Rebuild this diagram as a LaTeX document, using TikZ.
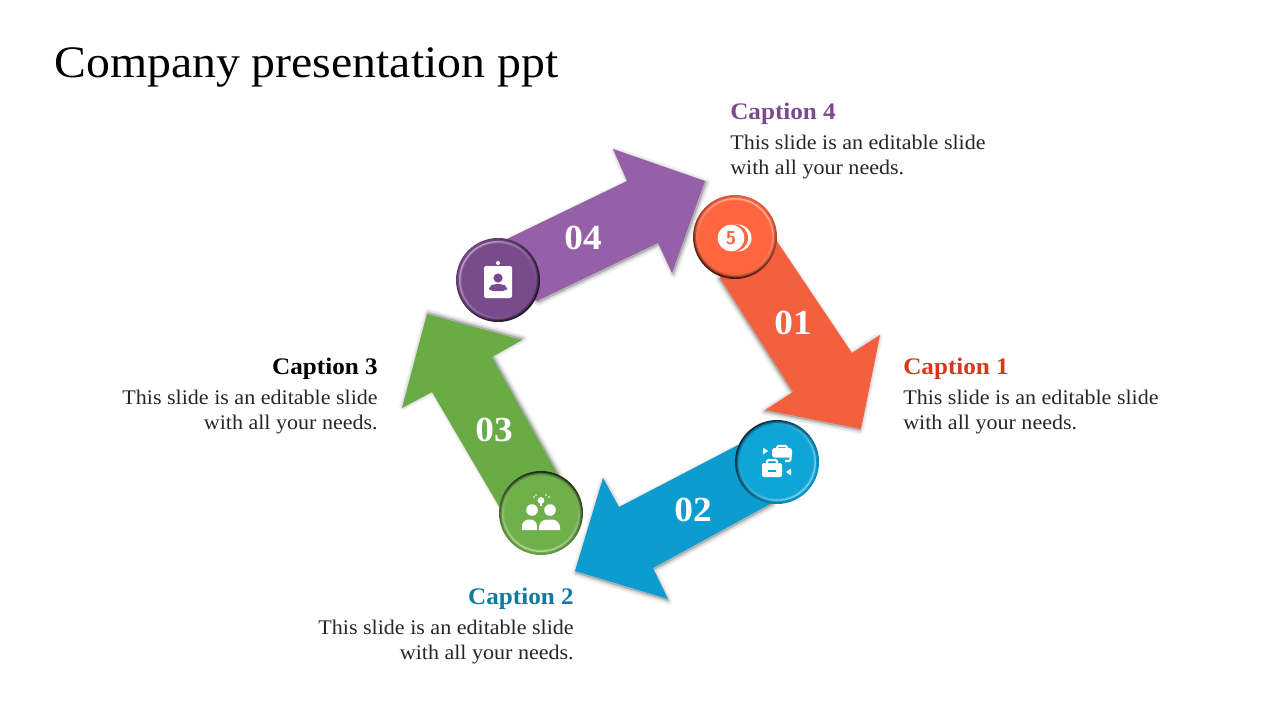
\documentclass[tikz,border=0pt]{standalone}
\usepackage{fontspec}
\usepackage{tikz}
\usetikzlibrary{calc}
\setmainfont{Liberation Serif}[FakeStretch=1.06]
\definecolor{orangeArrow}{HTML}{F45F3E}
\definecolor{blueArrow}{HTML}{0C9CCF}
\definecolor{greenArrow}{HTML}{69AB45}
\definecolor{purpleArrow}{HTML}{9660A8}
\definecolor{orangeDisc}{HTML}{FF6640}
\definecolor{blueDisc}{HTML}{0FA5D8}
\definecolor{greenDisc}{HTML}{70B04B}
\definecolor{purpleDisc}{HTML}{7A4B8C}
\definecolor{orangeCap}{HTML}{D8381A}
\definecolor{blueCap}{HTML}{0F7A9F}
\definecolor{purpleCap}{HTML}{7A4A8C}

% soft shadow copies (offset in #2), then the arrow itself
\newcommand{\softarrow}[3]{%
  \foreach \w/\op in {6/.03,4.5/.04,3/.05,1.5/.07}
    \fill[black,opacity=\op,draw=black,line width=\w pt,line join=round,shift={(#2)}] #3 -- cycle;
  \fill[#1] #3 -- cycle;
}
% bevelled disc: name, centre, colour, direction of the light
\newcommand{\bevel}[4]{%
  \node[disc, minimum size=63pt, top color=#3!90!black, middle color=#3!80!black, bottom color=#3!25!black, shading angle=#4-90] (#1) at (#2) {};
  \node[disc, minimum size=60.5pt, top color=#3, middle color=#3, bottom color=#3!60!black, shading angle=#4-90] at (#2) {};
  \node[disc, minimum size=58.5pt, top color=#3!50!white, middle color=#3, bottom color=#3!85!black, shading angle=#4-90] at (#2) {};
  \node[disc, minimum size=56.5pt, top color=#3!80!white, middle color=#3, bottom color=#3, shading angle=#4-90] at (#2) {};
  \node[disc, minimum size=55pt, fill=#3] at (#2) {};
}

\begin{document}
\begin{tikzpicture}[x=.75pt,y=-.75pt,
    disc/.style={circle, inner sep=0pt, draw=none},
    number/.style={text=white, font=\fontsize{26.4}{26.4}\selectfont\bfseries},
    captext/.style={font=\fontsize{17.8}{21}\selectfont\bfseries, inner sep=0pt},
    body/.style={font=\fontsize{15.6}{19.1}\selectfont, inner sep=0pt, text=black!85},
    icon/.style={fill=white, draw=none}
  ]
  \useasboundingbox (0,0) rectangle (1280,720);

  % title
  \node[anchor=base west, inner sep=0pt, font=\fontsize{33.8}{36}\selectfont] (title) at (54,78) {Company presentation ppt};

  % arrows
  \softarrow{purpleArrow}{1.5,1.5}{(507,239) -- (627,181) -- (613,149) -- (705,181) -- (672,273) -- (658,243) -- (537,301) -- (498,280)}
  \softarrow{orangeArrow}{-1,1.5}{(776,240) -- (852,353) -- (880,335) -- (861,429) -- (765,410) -- (793,392) -- (720,278) -- (735,237)}
  \softarrow{blueArrow}{.5,2}{(738,445) -- (619,507) -- (603,478) -- (575,571) -- (668,599) -- (653,568) -- (772,503) -- (777,462)}
  \softarrow{greenArrow}{1,-1.5}{(500,508) -- (432,392) -- (402,408) -- (427,314) -- (522,340) -- (492,357) -- (558,475) -- (541,513)}

  % numbers
  \node[number] (n1) at (793,323) {01};
  \node[number] (n2) at (693,510) {02};
  \node[number] (n3) at (494,430) {03};
  \node[number] (n4) at (583,238) {04};

  % discs
  \bevel{d1}{735,237}{orangeDisc}{70}
  \bevel{d2}{777,462}{blueDisc}{-40}
  \bevel{d3}{541,513}{greenDisc}{-100}
  \bevel{d4}{498,280}{purpleDisc}{140}

  % ball icon
  \fill[icon] (738,238) circle (13.5);
  \fill[orangeDisc] (734.5,238) circle (13.5);
  \fill[icon] (731,238) circle (13.3);
  \node[text=orangeDisc, inner sep=0pt, font=\fontsize{14}{14}\selectfont\bfseries\sffamily] (five) at (731,238) {5};

  % briefcases icon
  \fill[icon, rounded corners=1.5] (762,463) rectangle (782,477);
  \draw[white, line width=1.6pt, rounded corners=1] (767,463) -- (767,460) -- (777,460) -- (777,463);
  \fill[blueDisc] (768,469.5) rectangle (776,472);
  \fill[icon, rounded corners=2] (772,448) rectangle (792,457.5);
  \draw[white, line width=1.6pt, rounded corners=1] (777,448) -- (777,446) -- (787,446) -- (787,448);
  \draw[white, line width=1.8pt, rounded corners=1.5] (790.5,456) -- (790.5,461) -- (785,461);
  \fill[icon] (763,447.5) -- (768,451) -- (763,454.5) -- cycle;
  \fill[icon] (791,468.5) -- (786,472) -- (791,475.5) -- cycle;

  % two people icon
  \fill[icon] (532,510) circle (5.8);
  \fill[icon] (550,510) circle (5.8);
  \fill[icon] (522,530) [rounded corners=5] -- (522,519.5) -- (537,519.5) [sharp corners] -- (537,530) -- cycle;
  \fill[icon] (539,530) [rounded corners=6] -- (539,519.5) -- (560,519.5) [sharp corners] -- (560,530) -- cycle;
  \fill[icon] (541,500.5) circle (3.4);
  \fill[icon] (540,503) rectangle (542,506);
  \foreach \dx/\dy in {534/497,549/497,536/495,546/495}
    \fill[icon] (\dx,\dy) circle (.8);

  % badge icon
  \fill[icon, rounded corners=1.5] (484,266) rectangle (512,298);
  \fill[icon] (498,263) circle (2);
  \fill[purpleDisc] (498,278) circle (4.6);
  \fill[purpleDisc, rounded corners=3] (489,291) -- (489,287) -- (493,284) -- (503,284) -- (507,287) -- (507,291) -- cycle;

  % captions
  \node[captext, text=orangeCap, anchor=base west] (c1) at (903,374.5) {Caption 1};
  \node[body, anchor=north west, align=left] (t1) at (903,389.5) {This slide is an editable slide\\with all your needs.};
  \node[captext, text=blueCap, anchor=base east] (c2) at (574,604.5) {Caption 2};
  \node[body, anchor=north east, align=right] (t2) at (574,619.5) {This slide is an editable slide\\with all your needs.};
  \node[captext, text=black, anchor=base east] (c3) at (378,374.5) {Caption 3};
  \node[body, anchor=north east, align=right] (t3) at (378,389.5) {This slide is an editable slide\\with all your needs.};
  \node[captext, text=purpleCap, anchor=base west] (c4) at (730,119.5) {Caption 4};
  \node[body, anchor=north west, align=left] (t4) at (730,134.5) {This slide is an editable slide\\with all your needs.};
\end{tikzpicture}
\end{document}
